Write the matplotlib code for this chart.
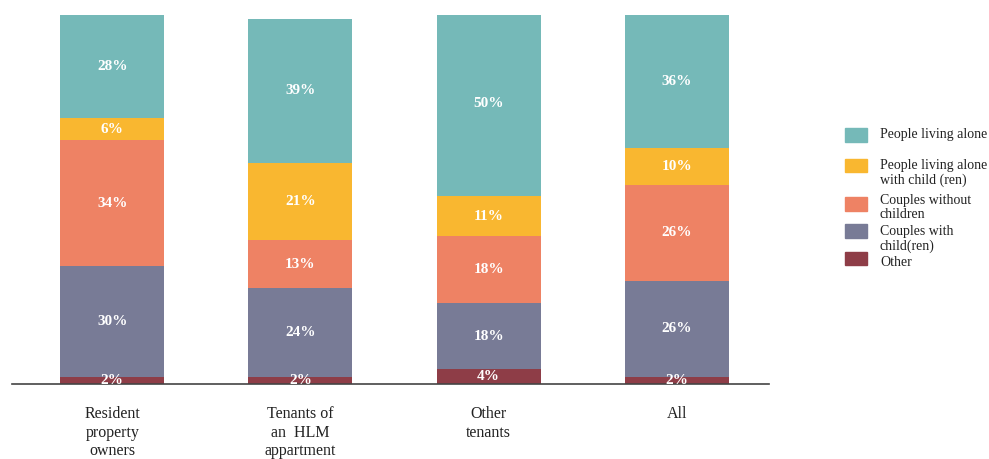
import matplotlib
matplotlib.use("Agg")
import matplotlib.pyplot as plt
from matplotlib.patches import Rectangle
import numpy as np

plt.rcParams["font.family"] = ["Liberation Serif", "DejaVu Serif"]

groups = ["Resident\nproperty\nowners", "Tenants of\nan  HLM\nappartment",
          "Other\ntenants", "All"]
series = ["Other", "Couples with\nchild(ren)", "Couples without\nchildren",
          "People living alone\nwith child (ren)", "People living alone"]
other = [2, 2, 4, 2]
couples_kids = [30, 24, 18, 26]
couples_nokids = [34, 13, 18, 26]
alone_kids = [6, 21, 11, 10]
alone = [28, 39, 50, 36]
colors = ["#8e3d47", "#787b96", "#ee8264", "#f9b730", "#75b9b8"]

values = [other, couples_kids, couples_nokids, alone_kids, alone]

fig = plt.figure(figsize=(9.89, 4.59), dpi=100)
ax = fig.add_axes([12 / 989, 75 / 459, 757 / 989, 369 / 459])

x = np.arange(len(groups))
bottom = np.zeros(len(groups))
for vals, col in zip(values, colors):
    ax.bar(x, vals, bottom=bottom, width=0.553, color=col, zorder=2)
    for xi, b, v in zip(x, bottom, vals):
        ax.text(xi, b + v / 2, f"{v}%", ha="center", va="center",
                color="white", fontsize=11, fontweight="bold")
    bottom += np.array(vals)

ax.set_xlim(-0.533, 3.49)
ax.set_ylim(0, 100)
ax.set_yticks([])
ax.set_xticks([])
for s in ["top", "right", "left"]:
    ax.spines[s].set_visible(False)
ax.spines["bottom"].set_color("#444444")
ax.spines["bottom"].set_linewidth(1.2)

for xi, g in zip(x, groups):
    ax.text(xi, -6.0, g, ha="center", va="top", fontsize=11.5,
            color="#222222", linespacing=1.2)

# legend, drawn by hand (top to bottom)
patch_y = [135, 165, 204, 231, 258]
text_y = [135, 166, 201, 232, 263]
for lab, col, py, ty in zip(series[::-1], colors[::-1], patch_y, text_y):
    fig.patches.append(Rectangle((845 / 989, 1 - (py + 6.5) / 459),
                                 22 / 989, 13 / 459,
                                 transform=fig.transFigure, color=col))
    fig.text(880 / 989, 1 - (ty - 7) / 459, lab, ha="left", va="top",
             fontsize=10, color="#222222", linespacing=1.15)

fig.savefig("out.png", dpi=100, facecolor="white")
